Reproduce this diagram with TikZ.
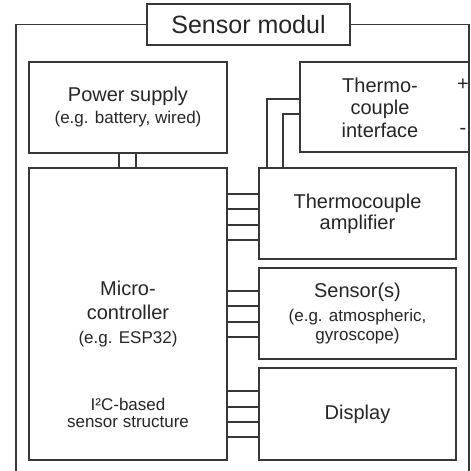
\documentclass[tikz,border=0pt]{standalone}
\usepackage{fontspec}
\setmainfont{Liberation Sans}
\begin{document}
\begin{tikzpicture}[x=1pt,y=-1pt,
  ln/.style={draw=black!78,line width=1.2pt},
  box/.style={ln,rectangle,fill=white,inner sep=0pt,align=center,text=black!85,font=\fontsize{20}{23}\selectfont},
  sub/.style={text=black!85,align=center,font=\fontsize{17}{19}\selectfont,inner sep=0pt}]
\useasboundingbox (0,0) rectangle (471,471);
% outer frame
\coordinate (fbl) at (16,490);
\coordinate (fbr) at (469,490);
\node[box,minimum width=203pt,minimum height=41pt,font=\fontsize{25}{28}\selectfont] (title) at (248.5,24.5) {Sensor modul};
\draw[ln] (title.west) -| (fbl);
\draw[ln] (title.east) -| (fbr);
% boxes
\node[box,minimum width=198pt,minimum height=91pt] (power) at (128,107.5)
  {Power supply\\[-1pt]{\fontsize{17}{19}\selectfont (e.g. battery, wired)}};
\node[box,minimum width=198pt,minimum height=292pt] (mcu) at (128,314)
  {Micro-\\[1pt]controller\\[1pt]{\fontsize{17}{19}\selectfont (e.g. ESP32)}};
\node[sub] (i2c) at (128,412.5) {I²C-based\\[-2pt]sensor structure};
\node[box,minimum width=169pt,minimum height=90pt] (iface) at (384.5,107) {};
\node[text=black!85,align=center,inner sep=0pt,font=\fontsize{20}{22.5}\selectfont] (ifacetxt) at (380,107.5) {Thermo-\\couple\\interface};
\node[text=black!85,inner sep=0pt,font=\fontsize{20}{22}\selectfont] (plus) at (463,85) {+};
\node[text=black!85,inner sep=0pt,font=\fontsize{20}{22}\selectfont] (minus) at (463,131) {-};
\node[box,minimum width=197pt,minimum height=91pt] (amp) at (357.5,213.5)
  {Thermocouple\\[-2pt]amplifier};
\node[box,minimum width=197pt,minimum height=91pt] (sens) at (357.5,313.5)
  {Sensor(s)\\[1pt]{\fontsize{17}{19}\selectfont (e.g. atmospheric,}\\[-4pt]{\fontsize{17}{19}\selectfont gyroscope)}};
\node[box,minimum width=197pt,minimum height=92pt] (disp) at (357.5,414) {Display};
% power - mcu
\foreach \x in {119,136}
  \draw[ln] (power.south -| \x,0) -- (mcu.north -| \x,0);
% interface - amp
\draw[ln] (iface.west |- 0,99) -| (amp.north -| 267,0);
\draw[ln] (iface.west |- 0,114) -| (amp.north -| 283,0);
% mcu - amp/sensor/display
\foreach \y in {194,209,225,240}
  \draw[ln] (mcu.east |- 0,\y) -- (amp.west |- 0,\y);
\foreach \y in {291,306,322,337}
  \draw[ln] (mcu.east |- 0,\y) -- (sens.west |- 0,\y);
\foreach \y in {391,407,422,437}
  \draw[ln] (mcu.east |- 0,\y) -- (disp.west |- 0,\y);
\end{tikzpicture}
\end{document}
